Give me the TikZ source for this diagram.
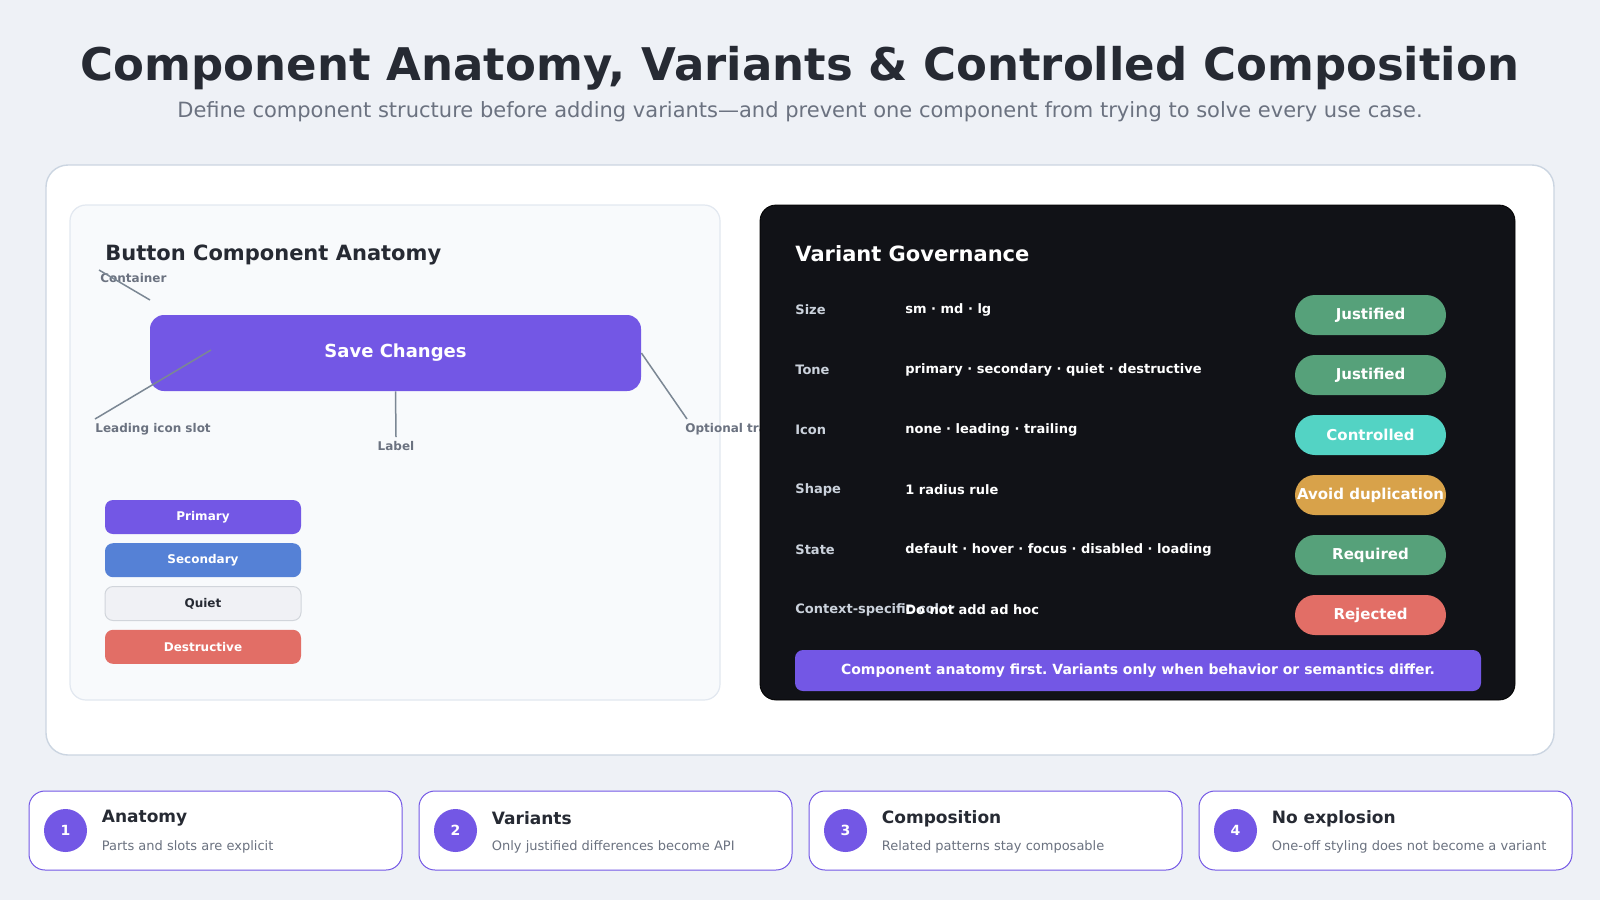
\documentclass[tikz,border=0pt]{standalone}
\usepackage{fontspec}
\setmainfont{DejaVu Sans}
\usepackage{xcolor}
\usetikzlibrary{positioning,calc}
\definecolor{bg}{HTML}{EEF1F6}
\definecolor{ink}{HTML}{262A33}
\definecolor{soft}{HTML}{6B7280}
\definecolor{frameline}{HTML}{CBD5E1}
\definecolor{anat}{HTML}{F8FAFC}
\definecolor{anatline}{HTML}{E2E8F0}
\definecolor{night}{HTML}{111217}
\definecolor{brand}{HTML}{7357E5}
\definecolor{tone2}{HTML}{5581D6}
\definecolor{quiet}{HTML}{F0F1F5}
\definecolor{quietline}{HTML}{D1D5DB}
\definecolor{danger}{HTML}{E26E66}
\definecolor{okgreen}{HTML}{56A17A}
\definecolor{teal}{HTML}{53D3C4}
\definecolor{amber}{HTML}{D8A24A}
\definecolor{leader}{HTML}{7B8794}
\definecolor{rowlabel}{HTML}{CBD2DC}

\tikzset{
  callout/.style={font=\bfseries\fontsize{6}{7}\selectfont,text=soft,inner sep=0pt},
  leaderline/.style={draw=leader,line width=0.75pt},
  varbtn/.style={rounded corners=4pt,minimum width=98pt,minimum height=17pt,
    inner sep=0pt,font=\bfseries\fontsize{6}{7}\selectfont,text=white},
  rowkey/.style={anchor=west,inner sep=0pt,text=rowlabel,font=\bfseries\fontsize{6.5}{7}\selectfont},
  rowval/.style={anchor=west,inner sep=0pt,text=white,font=\bfseries\fontsize{6.5}{7}\selectfont},
  badge/.style={rounded corners=10pt,minimum width=75.5pt,minimum height=20pt,
    inner sep=0pt,text=white,font=\bfseries\fontsize{7.5}{8}\selectfont},
  card/.style={draw=brand,fill=white,line width=0.5pt,rounded corners=8pt,
    minimum width=186.5pt,minimum height=39.5pt},
  stepdot/.style={circle,fill=brand,minimum size=21.5pt,inner sep=0pt,
    text=white,font=\bfseries\fontsize{7}{8}\selectfont}
}

\begin{document}
\frenchspacing
\begin{tikzpicture}[x=0.5pt,y=-0.5pt]
\path[fill=bg] (0,0) rectangle (1600,900);

% heading
\node[font=\bfseries\fontsize{22.5}{26}\selectfont,text=ink] (title) at (800,68)
  {Component Anatomy, Variants \& Controlled Composition};
\node[font=\fontsize{10.5}{12}\selectfont,text=soft] (subtitle) at (800,112)
  {Define component structure before adding variants---and prevent one component from trying to solve every use case.};

% outer frame
\draw[fill=white,draw=frameline,line width=0.7pt,rounded corners=11pt] (46,165) rectangle (1554,755);

% anatomy panel
\draw[fill=anat,draw=anatline,line width=0.6pt,rounded corners=8pt] (70,205) rectangle (720,700);
\node[anchor=west,inner sep=0pt,text=ink,font=\bfseries\fontsize{10.5}{12}\selectfont] (anattitle) at (105,255)
  {Button Component Anatomy};

\node[fill=brand,rounded corners=7pt,minimum width=245.5pt,minimum height=38pt,inner sep=0pt,
      text=white,font=\bfseries\fontsize{9}{10}\selectfont] (save) at (395.5,353) {Save Changes};

\node[callout,anchor=west] (container) at (100,278) {Container};
\node[callout,anchor=north west] (leading) at (95,423) {Leading icon slot};
\node[callout,anchor=north] (label) at (396,441) {Label};
\begin{scope}
  \clip (70,205) rectangle (760,700);
  \node[callout,anchor=west] (trailing) at (685,429) {Optional trailing icon};
\end{scope}
\coordinate (cont-a) at (99,270);
\coordinate (cont-b) at (150,300);
\coordinate (lead-a) at (211,350);
\coordinate (lead-b) at (95,419);
\coordinate (trail-b) at (687,419);
\draw[leaderline] (cont-a) -- (cont-b);
\draw[leaderline] (lead-a) -- (lead-b);
\draw[leaderline] (save.south) -- ($(label.north)+(0,-4)$);
\draw[leaderline] (save.east) -- (trail-b);

% variant swatches
\node[varbtn,fill=brand] (primary) at (203,517) {Primary};
\node[varbtn,fill=tone2,below=4.2pt of primary] (secondary) {Secondary};
\node[varbtn,fill=quiet,draw=quietline,line width=0.5pt,text=ink,below=4.2pt of secondary] (quietbtn) {Quiet};
\node[varbtn,fill=danger,below=4.2pt of quietbtn] (destructive) {Destructive};

% governance panel
\draw[fill=night,rounded corners=8pt] (760,205) rectangle (1515,700);
\node[anchor=west,inner sep=0pt,text=white,font=\bfseries\fontsize{10.5}{12}\selectfont] (govtitle) at (795,254)
  {Variant Governance};

\foreach \i/\k/\v/\b/\c in {0/Size/sm · md · lg/Justified/okgreen,
    1/Tone/primary · secondary · quiet · destructive/Justified/okgreen,
    2/Icon/none · leading · trailing/Controlled/teal,
    3/Shape/1 radius rule/Avoid duplication/amber,
    4/State/default · hover · focus · disabled · loading/Required/okgreen,
    5/Context-specific color/Do not add ad hoc/Rejected/danger} {
  \node[rowkey] (key\i) at (795,310+60*\i) {\k};
  \node[rowval] (val\i) at (905,310+60*\i) {\v};
  \node[badge,fill=\c] (badge\i) at (1370.5,315+60*\i) {\b};
}

\node[fill=brand,rounded corners=4pt,minimum width=343pt,minimum height=20.5pt,inner sep=0pt,
      text=white,font=\bfseries\fontsize{7}{8}\selectfont] (rule) at (1138,670.5)
  {Component anatomy first. Variants only when behavior or semantics differ.};

% principle cards
\foreach \i/\t/\d in {1/Anatomy/Parts and slots are explicit,
    2/Variants/Only justified differences become API,
    3/Composition/Related patterns stay composable,
    4/No explosion/One-off styling does not become a variant} {
  \node[card] (card\i) at (29+390*\i-390+186.5,830.5) {};
  \node[stepdot] (dot\i) at ($(card\i.west)+(37*0.5pt,0)$) {\i};
  \node[anchor=west,inner sep=0pt,text=ink,font=\bfseries\fontsize{8.5}{10}\selectfont] (cardtitle\i)
    at ($(card\i.west)+(73*0.5pt,12*0.5pt)$) {\t};
  \node[anchor=west,inner sep=0pt,text=soft,font=\fontsize{6.5}{7}\selectfont] (carddesc\i)
    at ($(card\i.west)+(73*0.5pt,-16*0.5pt)$) {\d};
}
\end{tikzpicture}
\end{document}
